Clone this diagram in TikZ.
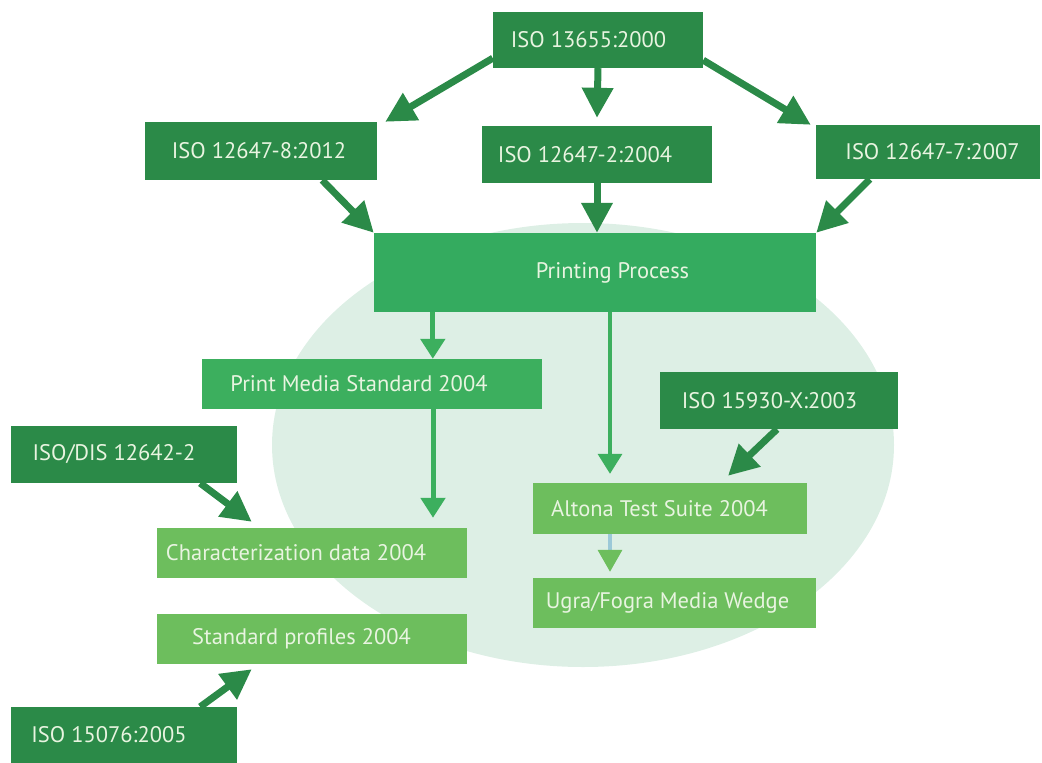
\documentclass[tikz,border=0pt]{standalone}
\usepackage{fontspec}
\setmainfont{PT Sans}
\usepackage{tikz}
\usetikzlibrary{
	arrows.meta,									% Triangle tips with set size
}
\definecolor{isodark}{HTML}{2B8A48}
\definecolor{procgreen}{HTML}{34AB5F}
\definecolor{midgreen}{HTML}{3CAF5E}
\definecolor{litegreen}{HTML}{6DBE5D}
\definecolor{ovalgreen}{HTML}{DDEFE5}
\definecolor{labeltext}{HTML}{E8F4E0}
\definecolor{stemblue}{HTML}{9CC9D8}

\begin{document}
\begin{tikzpicture}[x=1pt, y=-1pt,
		box/.style={inner sep=0pt, text=labeltext, font=\fontsize{22.5}{26}\selectfont},
		nudge/.style={execute at begin node={\hspace*{#1}}},
		isobox/.style={box, fill=isodark},
		procbox/.style={box, fill=procgreen},
		midbox/.style={box, fill=midgreen},
		litebox/.style={box, fill=litegreen},
		darr/.style={draw=isodark, line width=7pt, arrows={-Triangle[length=30pt, width=30pt]}},
		marr/.style={draw=midgreen, line width=5pt, arrows={-Triangle[length=20pt, width=24pt]}},
		larr/.style={draw=stemblue, line width=3.5pt, arrows={-Triangle[length=22pt, width=24pt, color=litegreen]}},
	]
		\useasboundingbox (0,0) rectangle (1042,763);
		\fill[ovalgreen] (583,445) ellipse [x radius=311, y radius=222];

		\node[isobox, nudge=-19pt, minimum width=210pt, minimum height=56pt] (iso13655) at (598,40) {ISO 13655:2000};
		\node[isobox, nudge=-4pt, minimum width=232pt, minimum height=58pt] (iso8) at (261,151) {ISO 12647-8:2012};
		\node[isobox, nudge=-24pt, minimum width=230pt, minimum height=57pt] (iso2) at (597,154.5) {ISO 12647-2:2004};
		\node[isobox, nudge=9pt, minimum width=224pt, minimum height=54pt] (iso7) at (928,152) {ISO 12647-7:2007};
		\node[procbox, nudge=35pt, minimum width=442pt, minimum height=79pt] (proc) at (595,272.5) {Printing Process};
		\node[midbox, nudge=-26pt, minimum width=340pt, minimum height=50pt] (pms) at (372,384) {Print Media Standard 2004};
		\node[isobox, nudge=-19pt, minimum width=238pt, minimum height=57pt] (iso15930) at (779,400.5) {ISO 15930-X:2003};
		\node[isobox, nudge=-20pt, minimum width=226pt, minimum height=57pt] (isodis) at (124,454.5) {ISO/DIS 12642-2};
		\node[litebox, nudge=-21pt, minimum width=274pt, minimum height=51pt] (altona) at (670,508.5) {Altona Test Suite 2004};
		\node[litebox, nudge=-32pt, minimum width=310pt, minimum height=50pt] (chardata) at (312,553) {Characterization data 2004};
		\node[litebox, nudge=-14pt, minimum width=283pt, minimum height=50pt] (wedge) at (674.5,603) {Ugra/Fogra Media Wedge};
		\node[litebox, nudge=-21pt, minimum width=310pt, minimum height=50pt] (profiles) at (312,639) {Standard profiles 2004};
		\node[isobox, nudge=-30pt, minimum width=226pt, minimum height=56pt] (iso15076) at (124,735) {ISO 15076:2005};

		\draw[darr] ([yshift=10pt]iso13655.south west) -- ([xshift=8pt]iso8.north east);
		\draw[darr] (iso13655.south) -- ([yshift=8pt]iso2.north);
		\draw[darr] ([yshift=8pt]iso13655.south east) -- ([xshift=-5pt]iso7.north west);
		\draw[darr] ([xshift=-55pt]iso8.south east) -- (proc.north west);
		\draw[darr] (iso2.south) -- (iso2.south |- proc.north);
		\draw[darr] ([xshift=54pt]iso7.south west) -- (proc.north east);
		\draw[marr] ([xshift=59pt]proc.south west) -- ([xshift=59pt]proc.south west |- pms.north);
		\draw[marr, line width=3.5pt, shorten >=9pt] ([xshift=15pt]proc.south) -- ([xshift=15pt]proc.south |- altona.north);
		\draw[marr, shorten >=10pt] ([xshift=61pt]pms.south) -- ([xshift=61pt]pms.south |- chardata.north);
		\draw[darr] ([xshift=-37pt]isodis.south east) -- ([xshift=95pt, yshift=6pt]chardata.north west);
		\draw[darr] ([xshift=-2pt]iso15930.south) -- ([xshift=58pt, yshift=7pt]altona.north);
		\draw[larr, shorten >=6pt] ([xshift=-60pt]altona.south) -- ([xshift=-60pt]altona.south |- wedge.north);
		\draw[darr] ([xshift=-37pt]iso15076.north east) -- ([xshift=95pt, yshift=-5pt]profiles.south west);
	\end{tikzpicture}
\end{document}
